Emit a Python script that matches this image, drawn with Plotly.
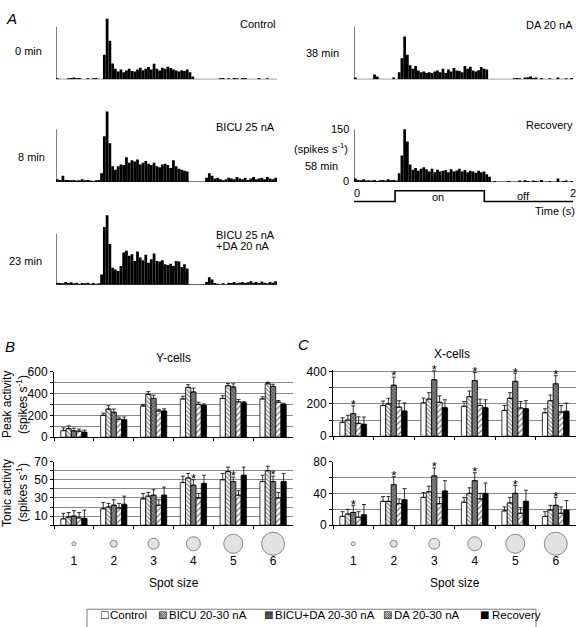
import numpy as np
import plotly.graph_objects as go

W, H = 579, 627
FONT = "Arial, Liberation Sans, Helvetica, sans-serif"

# ---------------- Panel A: PSTH data (spikes/s, 25 ms bins over 2 s) ----------------
T_MAX = 2.0
PSTH_FULL = 150          # labelled axis height
STIM_ON, STIM_OFF = 0.375, 1.19

psth_control = [3, 0, 0, 0, 3, 4, 5, 3, 4, 0, 0, 3, 0, 3, 4, 0, 0,
                70, 172, 110, 45, 30,
                22, 28, 20, 25, 30, 24, 22, 28, 33, 26, 30, 35, 28, 44, 30, 25, 33, 30, 36, 32, 28, 25, 22, 26, 24, 28, 20,
                8, 0, 0, 0, 0, 0, 0, 0, 0, 0, 3, 4, 0, 3, 0, 4, 3, 0, 4, 4, 0, 0, 0, 0, 4, 0, 0, 3, 0, 0, 0]
psth_bicu = [8, 6, 18, 6, 6, 5, 6, 4, 5, 8, 5, 6, 4, 3, 5, 6,
             25, 130, 200, 110, 45, 35,
             45, 50, 48, 70, 55, 62, 58, 64, 50, 55, 60, 52, 48, 55, 45, 42, 50, 52, 48, 40, 62, 45, 38, 35, 32, 30,
             0, 0, 0, 0, 0, 0,
             12, 25, 18, 10, 12, 8, 5, 8, 12, 10, 8, 14, 10, 8, 12, 6, 10, 14, 8, 10, 12, 8, 14, 10, 8, 12]
psth_bicu_da = [6, 5, 4, 8, 5, 7, 4, 6, 3, 5, 4, 6, 3, 5, 3, 4,
                30, 170, 205, 120, 50,
                45, 40, 55, 95, 100, 85, 90, 70, 98, 80, 72, 88, 65, 75, 92, 70, 68, 72, 60, 58, 62, 55, 70, 68, 52, 60, 48,
                0, 0, 0, 0, 0, 0,
                8, 22, 15, 5, 3, 0, 4, 0, 6, 5, 8, 4, 6, 8, 5, 7, 10, 6, 8, 5, 9, 6, 4, 8, 6, 10]
psth_da = [5, 0, 0, 0, 0, 0, 0, 14, 8, 0, 0, 0, 0, 0, 5, 0,
           20, 60, 122, 70, 40,
           30, 38, 25, 20, 22, 18, 20, 18, 22, 25, 20, 30, 18, 28, 22, 32, 25, 24, 20, 38, 30, 36, 25, 22, 26, 35, 30, 28,
           0, 0, 0, 0, 0, 0, 0, 0, 0, 3, 4, 3, 0, 5, 6, 8, 4, 5, 0, 4, 0, 0, 3, 0, 0, 5, 0, 0, 3, 0, 4]
psth_recovery = [10, 6, 5, 8, 4, 5, 4, 6, 3, 5, 6, 4, 8, 5, 6, 4,
                 25, 75, 150, 115, 50,
                 35, 40, 32, 38, 42, 36, 30, 38, 28, 35, 30, 32, 34, 28, 36, 30, 33, 38, 30, 34, 28, 32, 30, 26, 32, 28, 30, 22, 15,
                 0, 3, 0, 0, 0, 0, 3, 0, 0, 0, 4, 0, 5, 3, 0, 4, 3, 0, 6, 0, 0, 3, 0, 0, 10, 0, 3, 4, 0, 3]

# ---------------- Panels B/C: bar data ----------------
spot_sizes = ["1", "2", "3", "4", "5", "6"]
spot_diam = [4, 7, 11, 14, 19, 23]
conditions = ["Control", "BICU 20-30 nA", "BICU+DA 20-30 nA", "DA 20-30 nA", "Recovery"]

y_peak = {"Control": [60, 200, 285, 350, 355, 350],
          "BICU 20-30 nA": [78, 258, 392, 456, 471, 489],
          "BICU+DA 20-30 nA": [58, 228, 355, 414, 459, 465],
          "DA 20-30 nA": [55, 165, 240, 300, 324, 321],
          "Recovery": [45, 160, 240, 290, 315, 300]}
y_peak_err = {"Control": [25, 20, 15, 25, 25, 20],
              "BICU 20-30 nA": [25, 30, 25, 25, 20, 15],
              "BICU+DA 20-30 nA": [25, 30, 30, 35, 30, 20],
              "DA 20-30 nA": [20, 20, 15, 20, 20, 15],
              "Recovery": [20, 25, 20, 15, 10, 10]}
y_tonic = {"Control": [7, 18, 29, 47, 50, 48],
           "BICU 20-30 nA": [9, 20, 32, 52, 59, 60],
           "BICU+DA 20-30 nA": [10, 22, 33, 44, 48, 48],
           "DA 20-30 nA": [8, 19, 22, 30, 33, 30],
           "Recovery": [7.5, 23, 33, 46, 55, 48]}
y_tonic_err = {"Control": [6, 7, 6, 7, 7, 7],
               "BICU 20-30 nA": [5, 4, 4, 5, 5, 5],
               "BICU+DA 20-30 nA": [6, 6, 6, 6, 5, 6],
               "DA 20-30 nA": [6, 5, 6, 5, 5, 6],
               "Recovery": [9, 9, 9, 9, 9, 9]}
x_peak = {"Control": [86, 190, 206, 185, 160, 145],
          "BICU 20-30 nA": [100, 200, 230, 245, 235, 220],
          "BICU+DA 20-30 nA": [140, 316, 350, 345, 340, 325],
          "DA 20-30 nA": [80, 180, 210, 190, 175, 150],
          "Recovery": [74, 156, 176, 176, 170, 155]}
x_peak_err = {"Control": [28, 28, 30, 30, 30, 25],
              "BICU 20-30 nA": [30, 35, 40, 35, 35, 35],
              "BICU+DA 20-30 nA": [48, 50, 55, 50, 50, 50],
              "DA 20-30 nA": [40, 40, 40, 40, 40, 40],
              "Recovery": [45, 50, 50, 50, 50, 50]}
x_tonic = {"Control": [11, 30, 35, 29, 18, 11],
           "BICU 20-30 nA": [14, 30, 42, 40, 28, 19],
           "BICU+DA 20-30 nA": [16, 51, 62, 56, 40, 25],
           "DA 20-30 nA": [10, 27, 27, 33, 15, 15],
           "Recovery": [13, 32, 43, 40, 30, 19]}
x_tonic_err = {"Control": [6, 6, 6, 6, 5, 6],
               "BICU 20-30 nA": [6, 6, 7, 7, 7, 6],
               "BICU+DA 20-30 nA": [9, 10, 10, 10, 10, 10],
               "DA 20-30 nA": [7, 6, 8, 7, 7, 8],
               "Recovery": [13, 14, 13, 13, 14, 12]}

stars_y_peak = []
stars_y_tonic = ["4", "5", "6"]
stars_x_peak = ["1", "2", "3", "4", "5", "6"]
stars_x_tonic = ["1", "2", "3", "4", "5", "6"]


def fx(p):
    return p / W


def fy(p):
    return 1 - p / H


def ann(text, xp, yp, xanchor="center", size=11, **kw):
    d = dict(text=text, x=fx(xp), y=fy(yp), xref="paper", yref="paper",
             xanchor=xanchor, yanchor="middle", showarrow=False,
             font=dict(family=FONT, size=size, color="black"))
    d.update(kw)
    return d


fig = go.Figure()
layout = dict(width=W, height=H, margin=dict(l=0, r=0, t=0, b=0),
              paper_bgcolor="white", plot_bgcolor="rgba(0,0,0,0)",
              showlegend=False, barmode="group", bargap=0.34, bargroupgap=0,
              font=dict(family=FONT, size=11, color="black"))
shapes, annotations = [], []

# ---------------- Panel A ----------------
psth_panels = [
    (psth_control, 56, 277, 74, 20, 200),
    (psth_da, 354, 573, 74, 20, 200),
    (psth_bicu, 56, 277, 179, 125, 215),
    (psth_recovery, 354, 573, 179, 125, 215),
    (psth_bicu_da, 56, 277, 284, 232, 215),
]
for i, (vals, left, right, base, top, ymax) in enumerate(psth_panels, start=1):
    sfx = "" if i == 1 else str(i)
    n = len(vals)
    bw = T_MAX / n
    t = (np.arange(n) + 0.5) * bw
    fig.add_trace(go.Bar(x=t, y=vals, width=bw, marker=dict(color="black", line=dict(width=0)),
                         xaxis="x" + sfx, yaxis="y" + sfx, hoverinfo="skip"))
    scale = (base - top) / PSTH_FULL
    layout["xaxis" + sfx] = dict(domain=[fx(left), fx(right)], range=[0, T_MAX], visible=False,
                                 anchor="y" + sfx, fixedrange=True)
    layout["yaxis" + sfx] = dict(domain=[fy(base), fy(base - ymax * scale)], range=[0, ymax],
                                 visible=False, anchor="x" + sfx, fixedrange=True)
    shapes.append(dict(type="line", xref="x" + sfx, yref="y" + sfx, x0=0, x1=T_MAX, y0=0, y1=0,
                       line=dict(color="black", width=1)))
    shapes.append(dict(type="line", xref="x" + sfx, yref="y" + sfx, x0=0, x1=0, y0=0, y1=PSTH_FULL,
                       line=dict(color="black", width=1)))

# stimulus trace under Recovery panel
yl, yh = fy(199), fy(188)
shapes.append(dict(type="path", xref="x4", yref="paper",
                   path=f"M0,{yl} L{STIM_ON},{yl} L{STIM_ON},{yh} L{STIM_OFF},{yh} L{STIM_OFF},{yl} L{T_MAX},{yl}",
                   line=dict(color="black", width=1.6)))

annotations += [
    ann("<i>A</i>", 4, 12, xanchor="left", size=15),
    ann("Control", 277, 17, xanchor="right"),
    ann("0 min", 28, 45),
    ann("DA 20 nA", 575, 18, xanchor="right"),
    ann("38 min", 322, 47),
    ann("BICU 25 nA", 277, 123, xanchor="right"),
    ann("8 min", 31, 153),
    ann("Recovery", 575, 121, xanchor="right"),
    ann("150", 351, 125, xanchor="right"),
    ann("(spikes s<sup>-1</sup>)", 321, 144),
    ann("58 min", 321, 163),
    ann("0", 351, 178, xanchor="right"),
    ann("0", 357, 190),
    ann("2", 573, 190),
    ann("on", 438, 194),
    ann("off", 523, 193),
    ann("Time (s)", 577, 209, xanchor="right"),
    ann("BICU 25 nA", 214, 233, xanchor="left"),
    ann("+DA 20 nA", 214, 244, xanchor="left"),
    ann("23 min", 25, 260),
]

# ---------------- Panels B / C ----------------
styles = {
    "Control": dict(color="white", line=dict(color="black", width=0.8)),
    "BICU 20-30 nA": dict(color="white", line=dict(color="black", width=0.8),
                          pattern=dict(shape="\\", fgcolor="black", bgcolor="white", size=3, solidity=0.4)),
    "BICU+DA 20-30 nA": dict(color="#606060", line=dict(color="black", width=0.8),
                             pattern=dict(shape="x", fgcolor="#1a1a1a", bgcolor="#8a8a8a", size=2.5, solidity=0.5)),
    "DA 20-30 nA": dict(color="white", line=dict(color="black", width=0.8),
                        pattern=dict(shape="/", fgcolor="black", bgcolor="white", size=4, solidity=0.35)),
    "Recovery": dict(color="black", line=dict(color="black", width=0.8)),
}

bar_panels = [
    # idx, means, errs, stars, left, right, bottom, top(at ymax), ymax, drawn max, tick0, dtick, minor dtick
    (6, y_peak, y_peak_err, stars_y_peak, 54, 293, 440, 373, 600, 600, 0, 200, 100),
    (7, y_tonic, y_tonic_err, stars_y_tonic, 54, 293, 530, 465, 70, 70, 10, 20, 10),
    (8, x_peak, x_peak_err, stars_x_peak, 333, 576, 439, 373, 400, 412, 0, 200, 100),
    (9, x_tonic, x_tonic_err, stars_x_tonic, 333, 576, 530, 465, 80, 80, 0, 40, 20),
]
GRID = "#8a8a8a"
for idx, means, errs, stars, left, right, bottom, top, ymax, ydraw, t0, dt, mdt in bar_panels:
    sfx = str(idx)
    for cond in conditions:
        fig.add_trace(go.Bar(
            x=spot_sizes, y=means[cond], name=cond, marker=styles[cond],
            error_y=dict(type="data", array=errs[cond], arrayminus=[0] * len(spot_sizes), symmetric=False,
                         color="black", thickness=0.8, width=2),
            xaxis="x" + sfx, yaxis="y" + sfx, hoverinfo="skip"))
    # significance stars above the BICU+DA bars (centre bar of each group)
    cmid = conditions[2]
    if stars:
        ks = [spot_sizes.index(s) for s in stars]
        fig.add_trace(go.Scatter(
            x=stars, y=[means[cmid][k] + errs[cmid][k] for k in ks], mode="text",
            text=["*"] * len(stars), textposition="middle center",
            textfont=dict(family=FONT, size=13, color="black"),
            xaxis="x" + sfx, yaxis="y" + sfx, cliponaxis=False, hoverinfo="skip"))
    top_px = bottom - (bottom - top) * ydraw / ymax
    layout["xaxis" + sfx] = dict(domain=[fx(left), fx(right)], type="category", categoryarray=spot_sizes,
                                 categoryorder="array",
                                 range=[-0.5, len(spot_sizes) - 0.5], showline=True, linecolor="black",
                                 linewidth=1, ticks="outside", tickson="boundaries", ticklen=3,
                                 tickcolor="black", showticklabels=False, showgrid=False,
                                 anchor="y" + sfx, fixedrange=True)
    layout["yaxis" + sfx] = dict(domain=[fy(bottom), fy(top_px)], range=[0, ydraw],
                                 tickmode="linear", tick0=t0, dtick=dt,
                                 minor=dict(tick0=0, dtick=mdt, showgrid=True, gridcolor=GRID, gridwidth=1,
                                            ticks="outside", ticklen=3, tickcolor="black"),
                                 showline=True, linecolor="black", linewidth=1, ticks="outside",
                                 ticklen=3, tickcolor="black", showgrid=True, gridcolor=GRID,
                                 gridwidth=1, zeroline=False, tickfont=dict(size=12),
                                 anchor="x" + sfx, fixedrange=True)

# spot size circles
for idx, left, right in [(10, 54, 293), (11, 333, 576)]:
    sfx = str(idx)
    fig.add_trace(go.Scatter(x=spot_sizes, y=[0.725] * len(spot_sizes), mode="markers",
                             marker=dict(size=spot_diam, color="#d6d6d6", line=dict(color="#555555", width=1)),
                             xaxis="x" + sfx, yaxis="y" + sfx, cliponaxis=False, hoverinfo="skip"))
    fig.add_trace(go.Scatter(x=spot_sizes, y=[0.25] * len(spot_sizes), mode="text", text=spot_sizes,
                             textfont=dict(family=FONT, size=12, color="black"),
                             xaxis="x" + sfx, yaxis="y" + sfx, cliponaxis=False, hoverinfo="skip"))
    layout["xaxis" + sfx] = dict(domain=[fx(left), fx(right)], type="category", categoryarray=spot_sizes,
                                 categoryorder="array",
                                 range=[-0.5, len(spot_sizes) - 0.5], visible=False,
                                 anchor="y" + sfx, fixedrange=True)
    layout["yaxis" + sfx] = dict(domain=[fy(578), fy(538)], range=[0, 1], visible=False,
                                 anchor="x" + sfx, fixedrange=True)

annotations += [
    ann("<i>B</i>", 3, 347, xanchor="left", size=15),
    ann("<i>C</i>", 296, 345, xanchor="left", size=15),
    ann("Y-cells", 173, 359, size=12),
    ann("X-cells", 452, 355, size=12),
    ann("Peak activity", 7, 407, size=12, textangle=-90),
    ann("(spikes s<sup>-1</sup>)", 22, 407, size=12, textangle=-90),
    ann("Tonic activity", 7, 497, size=12, textangle=-90),
    ann("(spikes s<sup>-1</sup>)", 22, 497, size=12, textangle=-90),
    ann("Spot size", 174, 589, size=12),
    ann("Spot size", 455, 589, size=12),
]

# legend row (key for the bar patterns)
legend_glyphs = ["\u25a1", "\u25a7", "\u25a9", "\u25a8", "\u25a0"]
legend_icon_x = [98, 156, 262, 381, 478]
legend_text_x = [108, 167, 273, 392, 490]
for g, txt, gx, tx in zip(legend_glyphs, conditions, legend_icon_x, legend_text_x):
    annotations.append(dict(text=g, x=fx(gx), y=fy(621), xref="paper", yref="paper", xanchor="left",
                            yanchor="middle", showarrow=False,
                            font=dict(family="DejaVu Sans", size=10, color="black")))
    annotations.append(ann(txt, tx, 622, xanchor="left", size=11.5))
shapes.append(dict(type="rect", xref="paper", yref="paper", x0=fx(87), x1=fx(536), y0=fy(640), y1=fy(616),
                   line=dict(color="#7a7a7a", width=1)))

layout["shapes"] = shapes
layout["annotations"] = annotations
fig.update_layout(**layout)
fig.write_html("out.html", config={"displayModeBar": False, "staticPlot": True},
               post_script="document.body.style.margin='0px';")
